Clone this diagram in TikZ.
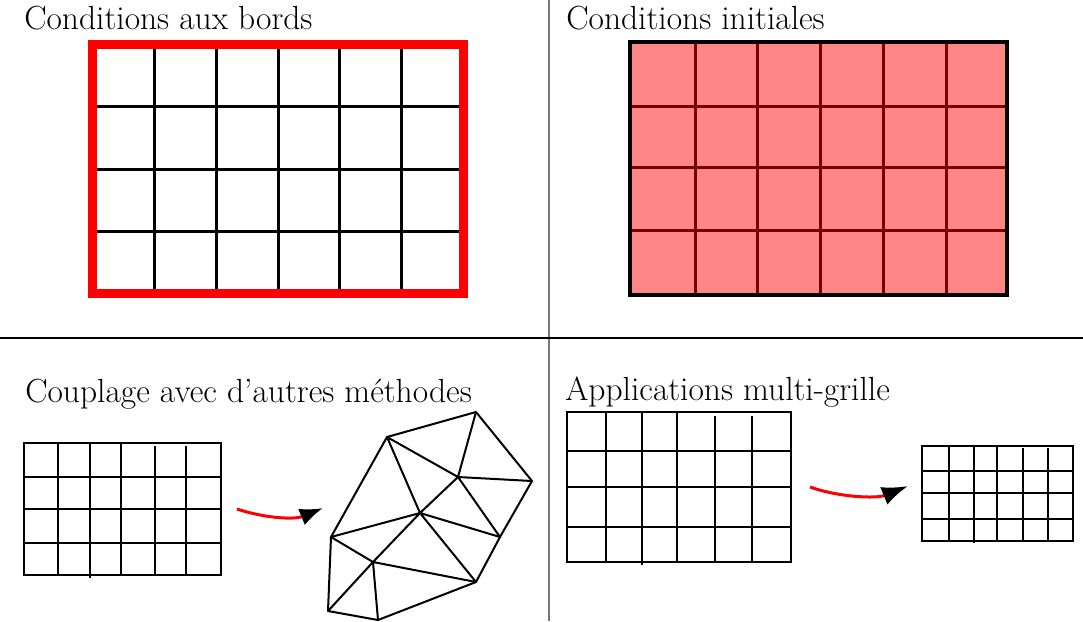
\documentclass[tikz,border=0pt]{standalone}
\usepackage{fontspec}
\usetikzlibrary{arrows.meta}
\definecolor{fillred}{RGB}{255,134,134}
\definecolor{darkline}{RGB}{120,0,0}
\definecolor{divgray}{RGB}{120,120,120}
\newlength{\px}
\setlength{\px}{0.7113pt}
\tikzset{
  lbltext/.style={anchor=base west,inner sep=0pt,font=\fontsize{23.8}{28}\selectfont},
  gridA/.style={black,line width=3\px},
  gridB/.style={black,line width=2\px},
  gridC/.style={black,line width=1.4\px},
  meshline/.style={black,line width=2\px,line join=round},
  redcurve/.style={red,line width=3\px},
}
\begin{document}
\begin{tikzpicture}[x=0.025cm,y=-0.025cm]
\useasboundingbox (0,0) rectangle (1083,621);
% dividers
\draw[divgray,line width=1.8\px] (549,0) coordinate (vt) -- (549,621) coordinate (vb);
\draw[black,line width=1.3\px] (0,338) coordinate (hl) -- (1083,338) coordinate (hr);
% labels
\node[lbltext] (t1) at (24,29) {Conditions aux bords};
\node[lbltext] (t2) at (566,29) {Conditions initiales};
\node[lbltext] (t3) at (25,402) {Couplage avec d'autres méthodes};
\node[lbltext] (t4) at (565,400) {Applications multi-grille};
% top-left grid with red border
\foreach \x in {154.3,216.2,278,339.8,401.7} \draw[gridA] (\x,44.5) -- (\x,293.5);
\foreach \y in {106.75,169,231.25} \draw[gridA] (92.5,\y) -- (463.5,\y);
\draw[red,line width=9\px] (92.5,44.5) rectangle (463,293.5);
% top-right filled grid
\fill[fillred] (630,42) rectangle (1007,295);
\foreach \x in {695,757.5,820,883,946} \draw[darkline,line width=3\px] (\x,42) -- (\x,295);
\foreach \y in {106,167,230} \draw[darkline,line width=3\px] (630,\y) -- (1007,\y);
\draw[black,line width=3.5\px] (630,42) rectangle (1007,295);
% bottom-left grid
\foreach \x/\a/\b in {58/443/575,90/443/578,121/443/575,155/446/575,186/446/575} \draw[gridB] (\x,\a) -- (\x,\b);
\foreach \y in {477,509,543} \draw[gridB] (24,\y) -- (221,\y);
\draw[gridB] (24,443) rectangle (221,575);
% bottom-right big grid
\foreach \x/\a/\b in {606/412/562,642/412/565,677/412/562,715/416/562,752/416/562} \draw[gridB] (\x,\a) -- (\x,\b);
\foreach \y in {451,487,527} \draw[gridB] (567,\y) -- (791,\y);
\draw[gridB] (567,412) rectangle (791,562);
% small grid
\foreach \x/\a/\b in {949/446/541,974/446/543,997/446/541,1023/448/541,1048/448/541} \draw[gridC] (\x,\a) -- (\x,\b);
\foreach \y in {471,493,519} \draw[gridC] (922,\y) -- (1073,\y);
\draw[gridC] (922,446) rectangle (1073,541);
% triangulated mesh
\coordinate (A) at (387,437);
\coordinate (B) at (476,412);
\coordinate (C) at (532,481);
\coordinate (D) at (458,477);
\coordinate (E) at (420,513);
\coordinate (F) at (331,537);
\coordinate (G) at (500,537);
\coordinate (H) at (373,562);
\coordinate (I) at (476,582);
\coordinate (J) at (328,611);
\coordinate (K) at (378,620);
\draw[meshline] (A) -- (B) -- (C) -- (G) -- (I) -- (K) -- (J) -- (F) -- cycle;
\draw[meshline] (A) -- (D) (B) -- (D) (D) -- (C) (D) -- (G) (D) -- (E)
  (A) -- (E) (E) -- (G) (E) -- (I) (E) -- (F) (E) -- (H)
  (F) -- (H) (H) -- (J) (H) -- (I) (H) -- (K);
% arrows
\coordinate (a1s) at (237,509);
\coordinate (a1e) at (323,508);
\draw[redcurve,-{Latex[color=black,length=16.5pt,width=12.5pt]}] (a1s) .. controls (264,518) and (294,520) .. (a1e);
\coordinate (a2s) at (810,487);
\coordinate (a2e) at (908,486);
\draw[redcurve,-{Latex[color=black,length=18.5pt,width=13.5pt]}] (a2s) .. controls (838,497) and (876,499) .. (a2e);
\end{tikzpicture}
\end{document}
